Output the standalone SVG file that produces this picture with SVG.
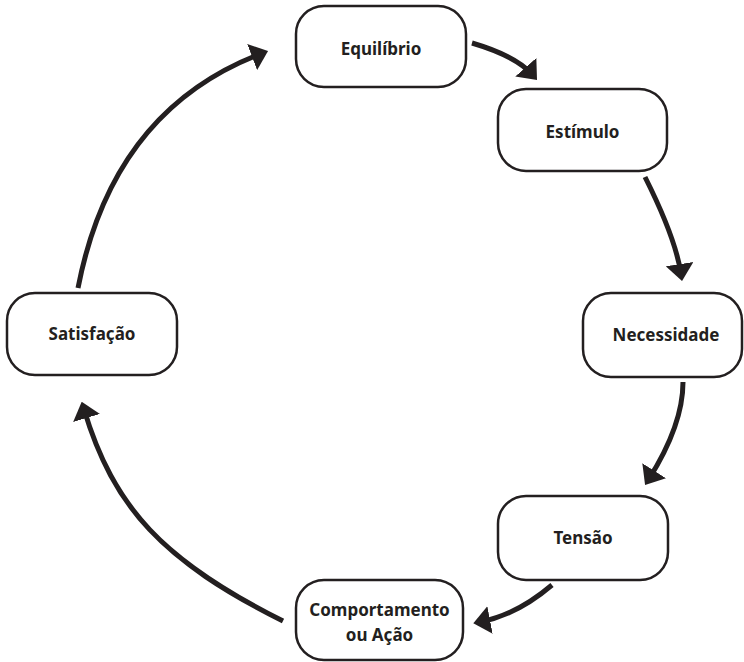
<svg xmlns="http://www.w3.org/2000/svg" width="744" height="662" viewBox="0 0 744 662">
<style>
.box{fill:#fff;stroke:#231f20;stroke-width:2.5}
.lbl{font-family:"Noto Sans","Open Sans",sans-serif;font-weight:bold;font-size:17px;fill:#231f20;text-anchor:middle}
.arr{fill:none;stroke:#231f20;stroke-width:5;marker-end:url(#ah)}
</style>
<defs>
<marker id="ah" markerUnits="userSpaceOnUse" viewBox="0 0 17 28" markerWidth="17" markerHeight="28" refX="10" refY="14" orient="auto">
<path d="M0,0 L17,14 L0,28 Z" fill="#231f20"/>
</marker>
</defs>
<g id="connectors">
<path class="arr" d="M472,43 Q516,56 532.4,74.7"/>
<path class="arr" d="M645,177 Q675.6,238 681,274"/>
<path class="arr" d="M683,382 Q683,425 648.8,479.1"/>
<path class="arr" d="M552,585 Q517,614.8 480.2,622"/>
<path class="arr" d="M283,621 C163.4,561.2 113.5,508.1 83.7,408.4"/>
<path class="arr" d="M78,288 Q112.5,110 261.5,53.5"/>
</g>
<g id="equilibrio"><rect class="box" x="296" y="6" width="170" height="81" rx="28"/><text class="lbl" x="381" y="55">Equilíbrio</text></g>
<g id="estimulo"><rect class="box" x="498" y="89" width="169" height="82" rx="28"/><text class="lbl" x="582.5" y="138">Estímulo</text></g>
<g id="necessidade"><rect class="box" x="583" y="293" width="159" height="84" rx="28"/><text class="lbl" x="666" y="341">Necessidade</text></g>
<g id="tensao"><rect class="box" x="498" y="496" width="170" height="84" rx="28"/><text class="lbl" x="583" y="544">Tensão</text></g>
<g id="comportamento"><rect class="box" x="296" y="580" width="167" height="80" rx="28"/><text class="lbl" x="379.5" y="616">Comportamento</text><text class="lbl" x="379.5" y="641">ou Ação</text></g>
<g id="satisfacao"><rect class="box" x="7" y="293" width="170" height="82" rx="28"/><text class="lbl" x="92" y="340">Satisfação</text></g>
</svg>
